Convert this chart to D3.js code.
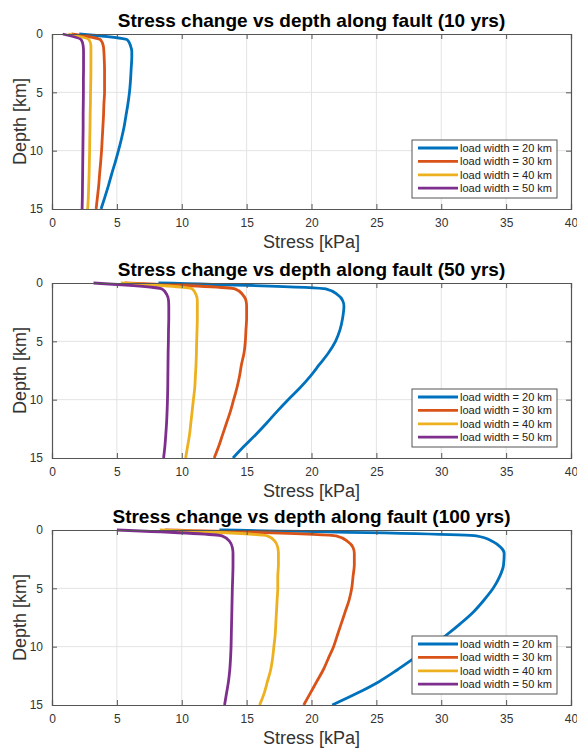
<!DOCTYPE html>
<html>
<head>
<meta charset="utf-8">
<script src="https://cdn.jsdelivr.net/npm/d3@7/dist/d3.min.js"></script>
<style>
  html, body { margin: 0; padding: 0; background: #ffffff; }
  svg { display: block; font-family: "Liberation Sans", Arial, sans-serif; }
</style>
</head>
<body>
<svg id="chart" width="577" height="749"></svg>
<script>
// Depth samples along the fault (km)
const depth = [0, 0.5, 1, 1.5, 2, 3, 4, 5, 6, 7, 8, 9, 10, 11, 12, 13, 14, 15];

const loadWidths = ["load width = 20 km", "load width = 30 km", "load width = 40 km", "load width = 50 km"];
const colors = ["#0072BD", "#D95319", "#EDB120", "#7E2F8E"];

const xTicks = [0, 5, 10, 15, 20, 25, 30, 35, 40];
const yTicks = [0, 5, 10, 15];

// Stress change (kPa) after 10 years, one array per load width
const stress10_w20 = [2.1, 5.8, 6.05, 6.15, 6.15, 6.1, 6.05, 5.97, 5.85, 5.7, 5.55, 5.35, 5.12, 4.87, 4.6, 4.35, 4.07, 3.78];
const stress10_w30 = [1.5, 3.75, 3.95, 4.0, 4.02, 4.05, 4.05, 4.05, 4.0, 3.97, 3.92, 3.87, 3.82, 3.75, 3.67, 3.6, 3.5, 3.4];
const stress10_w40 = [1.25, 2.85, 3.0, 3.0, 3.0, 3.0, 2.99, 2.97, 2.96, 2.94, 2.93, 2.91, 2.9, 2.88, 2.86, 2.83, 2.8, 2.75];
const stress10_w50 = [0.82, 2.25, 2.4, 2.43, 2.43, 2.43, 2.42, 2.42, 2.41, 2.4, 2.4, 2.39, 2.38, 2.37, 2.36, 2.35, 2.34, 2.32];

// Stress change (kPa) after 50 years
const stress50_w20 = [8.2, 21.1, 22.0, 22.4, 22.5, 22.4, 22.2, 21.85, 21.3, 20.6, 19.9, 19.1, 18.2, 17.35, 16.55, 15.7, 14.8, 13.95];
const stress50_w30 = [5.6, 14.1, 14.7, 14.95, 15.0, 15.0, 14.95, 14.9, 14.8, 14.6, 14.45, 14.25, 14.0, 13.75, 13.45, 13.15, 12.85, 12.5];
const stress50_w40 = [5.3, 10.8, 11.1, 11.2, 11.2, 11.2, 11.18, 11.15, 11.13, 11.1, 11.05, 11.0, 10.9, 10.8, 10.7, 10.6, 10.45, 10.3];
const stress50_w50 = [3.2, 8.45, 8.85, 8.98, 9.0, 9.0, 8.98, 8.97, 8.95, 8.94, 8.93, 8.92, 8.9, 8.87, 8.83, 8.77, 8.7, 8.6];

// Stress change (kPa) after 100 years
const stress100_w20 = [12.9, 32.7, 34.0, 34.6, 34.85, 34.8, 34.5, 34.0, 33.3, 32.5, 31.5, 30.4, 29.2, 27.9, 26.6, 25.2, 23.5, 21.6];
const stress100_w30 = [8.7, 21.9, 22.8, 23.2, 23.3, 23.3, 23.2, 23.1, 22.9, 22.6, 22.3, 22.0, 21.7, 21.3, 20.9, 20.4, 19.9, 19.4];
const stress100_w40 = [8.3, 16.6, 17.2, 17.4, 17.45, 17.45, 17.4, 17.4, 17.35, 17.3, 17.25, 17.2, 17.1, 17.0, 16.85, 16.6, 16.35, 16.0];
const stress100_w50 = [5.0, 13.1, 13.7, 13.9, 13.95, 13.95, 13.93, 13.9, 13.88, 13.86, 13.84, 13.82, 13.8, 13.76, 13.7, 13.6, 13.45, 13.3];

const panels = [
  { title: "Stress change vs depth along fault (10 yrs)", top: 34,  series: [stress10_w20, stress10_w30, stress10_w40, stress10_w50] },
  { title: "Stress change vs depth along fault (50 yrs)", top: 283, series: [stress50_w20, stress50_w30, stress50_w40, stress50_w50] },
  { title: "Stress change vs depth along fault (100 yrs)", top: 530, series: [stress100_w20, stress100_w30, stress100_w40, stress100_w50] }
];

const svg = d3.select("#chart");
const left = 52, right = 571, plotH = 175;
const axisColor = "#555555";
const textColor = "#333333";

const x = d3.scaleLinear().domain([0, 40]).range([left, right]);

panels.forEach((p, pi) => {
  const y = d3.scaleLinear().domain([0, 15]).range([p.top, p.top + plotH]);
  const g = svg.append("g");

  // grid
  g.append("g").selectAll("line").data(xTicks.slice(1, -1)).join("line")
    .attr("x1", d => x(d)).attr("x2", d => x(d))
    .attr("y1", p.top).attr("y2", p.top + plotH)
    .attr("stroke", "#e3e3e3").attr("stroke-width", 1);
  g.append("g").selectAll("line").data(yTicks.slice(1, -1)).join("line")
    .attr("x1", left).attr("x2", right)
    .attr("y1", d => y(d)).attr("y2", d => y(d))
    .attr("stroke", "#e3e3e3").attr("stroke-width", 1);

  // curves
  const line = d3.line().x(d => x(d[0])).y(d => y(d[1])).curve(d3.curveMonotoneY);
  p.series.forEach((s, i) => {
    g.append("path")
      .datum(s.map((v, k) => [v, depth[k]]))
      .attr("d", line)
      .attr("fill", "none")
      .attr("stroke", colors[i])
      .attr("stroke-width", 2.8)
      .attr("stroke-linejoin", "round");
  });

  // axes: bottom with labels, top/left/right box with inward ticks
  const tickLen = 5;
  const xb = g.append("g").attr("transform", `translate(0,${p.top + plotH})`)
    .call(d3.axisBottom(x).tickValues(xTicks).tickSize(-tickLen).tickPadding(tickLen + 4));
  const xt = g.append("g").attr("transform", `translate(0,${p.top})`)
    .call(d3.axisTop(x).tickValues(xTicks).tickSize(-tickLen).tickFormat(""));
  const yl = g.append("g").attr("transform", `translate(${left},0)`)
    .call(d3.axisLeft(y).tickValues(yTicks).tickSize(-tickLen).tickPadding(tickLen + 4));
  const yr = g.append("g").attr("transform", `translate(${right},0)`)
    .call(d3.axisRight(y).tickValues(yTicks).tickSize(-tickLen).tickFormat(""));
  [xb, xt, yl, yr].forEach(a => {
    a.select(".domain").attr("stroke", axisColor).attr("stroke-width", 1.2);
    a.selectAll(".tick line").attr("stroke", axisColor);
    a.selectAll(".tick text").attr("fill", textColor)
      .style("font-size", "12px").style("font-family", "'Liberation Sans', Arial, sans-serif");
  });

  // title
  g.append("text")
    .attr("x", (left + right) / 2).attr("y", p.top - 7)
    .attr("text-anchor", "middle")
    .style("font-size", "19px").style("font-weight", "bold").attr("fill", "#000")
    .text(p.title);

  // axis labels
  g.append("text")
    .attr("x", (left + right) / 2).attr("y", p.top + plotH + 39)
    .attr("text-anchor", "middle")
    .style("font-size", "18px").attr("fill", textColor)
    .text("Stress [kPa]");
  g.append("text")
    .attr("transform", `translate(26,${p.top + plotH / 2}) rotate(-90)`)
    .attr("text-anchor", "middle")
    .style("font-size", "18px").attr("fill", textColor)
    .text("Depth [km]");

  // legend
  const lgW = 145, lgH = 58;
  const lgX = 412, lgY = p.top + plotH - 11 - lgH;
  const lg = g.append("g").attr("transform", `translate(${lgX},${lgY})`);
  lg.append("rect").attr("width", lgW).attr("height", lgH)
    .attr("fill", "#fff").attr("stroke", axisColor).attr("stroke-width", 1);
  loadWidths.forEach((lab, i) => {
    const ry = 8 + i * 13.4;
    lg.append("line").attr("x1", 6).attr("x2", 46).attr("y1", ry).attr("y2", ry)
      .attr("stroke", colors[i]).attr("stroke-width", 2.8);
    lg.append("text").attr("x", 48).attr("y", ry + 4)
      .style("font-size", "11px").attr("fill", "#222")
      .text(lab);
  });
});
</script>
</body>
</html>
